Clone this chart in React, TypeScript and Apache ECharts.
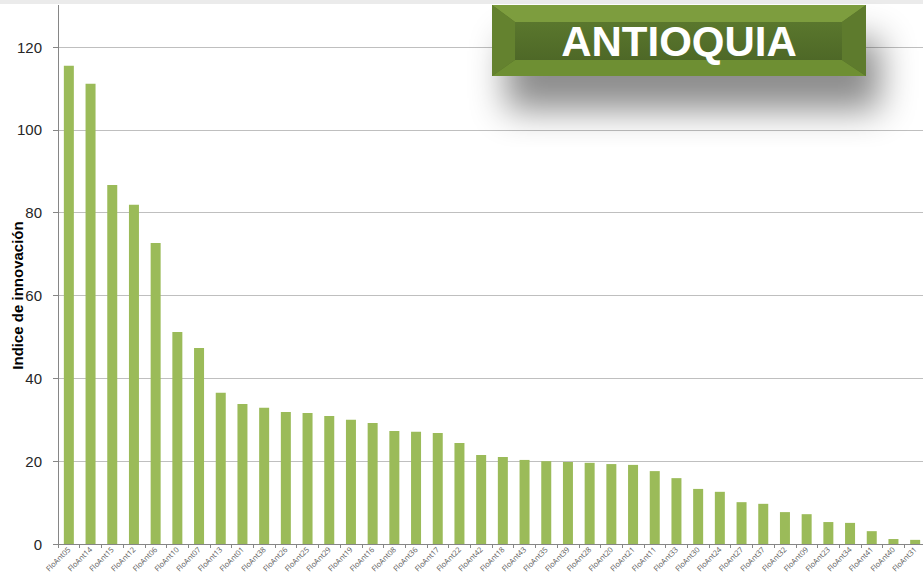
import React, { useEffect, useRef } from "react";
import * as echarts from "echarts";

const categories = [
  "FloAnt05", "FloAnt14", "FloAnt15", "FloAnt12", "FloAnt06", "FloAnt10", "FloAnt07", "FloAnt13",
  "FloAnt01", "FloAnt38", "FloAnt26", "FloAnt25", "FloAnt29", "FloAnt19", "FloAnt16", "FloAnt08",
  "FloAnt36", "FloAnt17", "FloAnt22", "FloAnt42", "FloAnt18", "FloAnt43", "FloAnt35", "FloAnt39",
  "FloAnt28", "FloAnt20", "FloAnt21", "FloAnt11", "FloAnt33", "FloAnt30", "FloAnt24", "FloAnt27",
  "FloAnt37", "FloAnt32", "FloAnt09", "FloAnt23", "FloAnt34", "FloAnt41", "FloAnt40", "FloAnt31",
];
const values = [
  115.5, 111.1, 86.7, 81.9, 72.7, 51.2, 47.3, 36.5,
  33.8, 32.9, 31.9, 31.6, 30.9, 30.0, 29.2, 27.3,
  27.1, 26.8, 24.4, 21.5, 21.0, 20.3, 20.0, 19.8,
  19.6, 19.3, 19.1, 17.6, 15.9, 13.3, 12.6, 10.1,
  9.7, 7.7, 7.2, 5.3, 5.1, 3.1, 1.2, 1.0,
];
const yTicks = { min: 0, max: 120, interval: 20 };
const yAxisTitle = "Indice de innovación";
const bannerText = "ANTIOQUIA";

export default function App() {
  const ref = useRef<HTMLDivElement>(null);
  useEffect(() => {
    const chart = echarts.init(ref.current!, null, { renderer: "svg" });
    const bx = 492, by = 5, bw = 374, bh = 71;
    const ix = 515, iy = 22, iw = 327, ih = 38;
    chart.setOption({
      animation: false,
      backgroundColor: "#ffffff",
      grid: {
        left: 58,
        right: -3,
        top: 47,
        bottom: 41,
        containLabel: false,
        outerBoundsMode: "none",
      },
      xAxis: {
        type: "category",
        data: categories,
        axisLine: { lineStyle: { color: "#868686", width: 1 } },
        axisTick: { show: true, alignWithLabel: false, length: 4, lineStyle: { color: "#868686" } },
        axisLabel: {
          rotate: 45,
          fontSize: 7.5,
          color: "#595959",
          margin: 4,
          interval: 0,
          fontFamily: "Open Sans",
        },
      },
      yAxis: {
        type: "value",
        min: yTicks.min,
        max: yTicks.max,
        interval: yTicks.interval,
        axisLine: { show: true, lineStyle: { color: "#868686" } },
        axisTick: { show: true, length: 5, lineStyle: { color: "#868686" } },
        axisLabel: { fontSize: 15, color: "#262626", margin: 16, fontFamily: "Liberation Sans" },
        splitLine: { show: true, lineStyle: { color: "#BFBFBF", width: 1 } },
        name: yAxisTitle,
        nameLocation: "middle",
        nameGap: 33,
        nameRotate: 90,
        nameMoveOverlap: false,
        nameTextStyle: { fontSize: 15, fontWeight: "bold", color: "#000", fontFamily: "Liberation Sans" },
      },
      series: [
        {
          type: "bar",
          data: values,
          barWidth: 10,
          itemStyle: { color: "#9BBB59" },
        },
      ],
      graphic: [
        { type: "rect", shape: { x: 0, y: 0, width: 923, height: 4 }, style: { fill: "#EBEBEB" }, z: 0 },
        { type: "line", shape: { x1: 58.5, y1: 5, x2: 58.5, y2: 47 }, style: { stroke: "#868686", lineWidth: 1 }, z: 10 },
        {
          type: "rect",
          shape: { x: bx, y: by, width: bw, height: bh },
          style: {
            fill: "#56712C",
            shadowColor: "rgba(0,0,0,0.45)",
            shadowBlur: 35,
            shadowOffsetX: 14,
            shadowOffsetY: 34,
          },
          z: 20,
        },
        {
          type: "polygon",
          shape: { points: [[bx, by], [bx + bw, by], [ix + iw, iy], [ix, iy]] },
          style: { fill: "#7D9D3E" },
          z: 21,
        },
        {
          type: "polygon",
          shape: { points: [[bx, by + bh], [bx + bw, by + bh], [ix + iw, iy + ih], [ix, iy + ih]] },
          style: { fill: "#6E8F33" },
          z: 21,
        },
        {
          type: "polygon",
          shape: { points: [[bx, by], [ix, iy], [ix, iy + ih], [bx, by + bh]] },
          style: { fill: "#64822F" },
          z: 21,
        },
        {
          type: "polygon",
          shape: { points: [[bx + bw, by], [ix + iw, iy], [ix + iw, iy + ih], [bx + bw, by + bh]] },
          style: { fill: "#5E7B2D" },
          z: 21,
        },
        {
          type: "rect",
          shape: { x: ix, y: iy, width: iw, height: ih },
          style: {
            fill: new echarts.graphic.LinearGradient(0, 0, 0, 1, [
              { offset: 0, color: "#5A772D" },
              { offset: 1, color: "#4E6827" },
            ]),
          },
          z: 21,
        },
        {
          type: "text",
          x: bx + bw / 2,
          y: by + bh / 2 + 1,
          style: {
            text: bannerText,
            fill: "#ffffff",
            font: "bold 42px 'Liberation Sans', Arial, sans-serif",
            align: "center",
            verticalAlign: "middle",
          },
          z: 22,
        },
      ],
    });
    return () => chart.dispose();
  }, []);
  return (
    <div
      ref={ref}
      style={{ position: "fixed", left: 0, top: 0, width: 923, height: 585 }}
    />
  );
}
